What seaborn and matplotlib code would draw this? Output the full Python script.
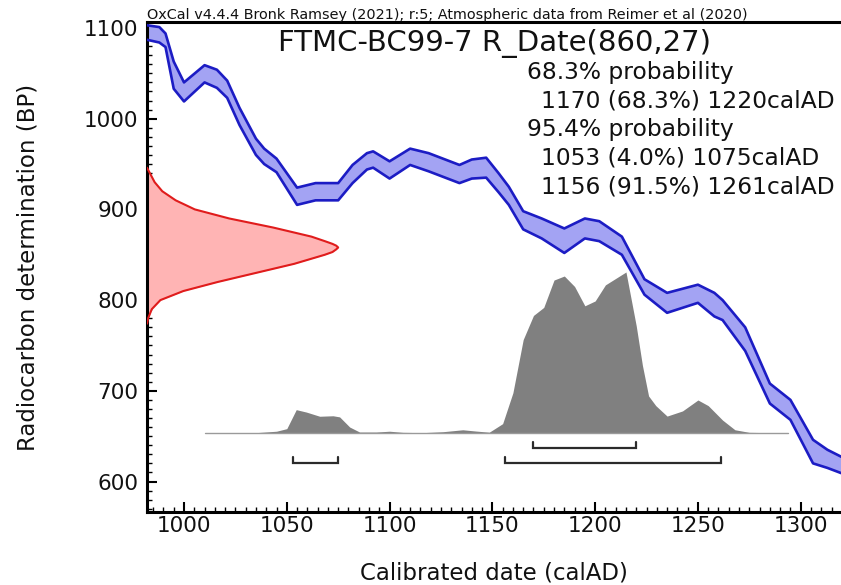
import matplotlib
matplotlib.use("Agg")
import matplotlib.pyplot as plt
from matplotlib.ticker import MultipleLocator
import numpy as np
import seaborn as sns

# Calibration curve band (mean +/- 1 sigma), radiocarbon years BP
curve_year = [982, 988, 991, 995, 1000, 1010, 1016, 1021, 1027, 1035, 1039, 1045,
              1055, 1064, 1075, 1082, 1089, 1092, 1100, 1110, 1119, 1134, 1140,
              1147, 1153, 1158, 1165, 1174, 1185, 1195, 1202, 1213, 1224, 1235,
              1250, 1258, 1262, 1273, 1285, 1295, 1306, 1313, 1320]
curve_upper = [1103, 1101, 1094, 1063, 1040, 1059, 1054, 1042, 1012, 978, 967, 956,
               924, 929, 929, 949, 962, 964, 953, 967, 962, 949, 955,
               957, 940, 925, 898, 890, 879, 890, 887, 870, 823, 808,
               817, 808, 800, 770, 708, 690, 646, 635, 627]
curve_lower = [1087, 1084, 1079, 1033, 1019, 1040, 1034, 1023, 993, 960, 950, 941,
               905, 910, 910, 929, 944, 946, 934, 949, 942, 929, 934,
               935, 919, 905, 878, 868, 852, 868, 865, 850, 806, 786,
               797, 782, 778, 744, 686, 668, 620, 615, 609]

# Radiocarbon measurement likelihood (relative) against BP
date_bp = [946, 940, 930, 920, 910, 900, 890, 880, 870, 865, 862, 860, 858, 856,
           853, 850, 840, 830, 820, 810, 800, 790, 780, 774]
date_prob = [0.0, 0.015, 0.04, 0.08, 0.15, 0.25, 0.43, 0.66, 0.86, 0.93, 0.97, 0.99,
             1.0, 0.99, 0.97, 0.93, 0.77, 0.57, 0.37, 0.19, 0.07, 0.025, 0.006, 0.0]

# Calibrated date probability (relative)
cal_year = [1010, 1035, 1045, 1050, 1054.6, 1059.5, 1066, 1072.5, 1075.7, 1080.6,
            1085.4, 1093.5, 1100, 1106.5, 1116, 1126, 1135.6, 1142, 1148.5, 1155,
            1160, 1165, 1170, 1175, 1180, 1185, 1190, 1195, 1200, 1205, 1210,
            1215, 1220, 1223, 1226, 1229.5, 1235, 1242.5, 1250, 1255, 1262, 1268,
            1275, 1294]
cal_prob = [0.0, 0.002, 0.011, 0.027, 0.145, 0.13, 0.104, 0.107, 0.10, 0.037,
            0.006, 0.006, 0.011, 0.004, 0.002, 0.008, 0.02, 0.012, 0.005, 0.058,
            0.25, 0.58, 0.73, 0.78, 0.95, 0.975, 0.91, 0.79, 0.82, 0.92, 0.96,
            1.0, 0.665, 0.42, 0.23, 0.17, 0.105, 0.137, 0.205, 0.17, 0.08, 0.02,
            0.004, 0.0]

# Highest posterior density ranges (calAD)
hpd68 = [(1170, 1220)]
hpd95 = [(1053, 1075), (1156, 1261)]

header = "OxCal v4.4.4 Bronk Ramsey (2021); r:5; Atmospheric data from Reimer et al (2020)"
title = "FTMC-BC99-7 R_Date(860,27)"
summary = [
    ("68.3% probability", 0),
    ("1170 (68.3%) 1220calAD", 1),
    ("95.4% probability", 0),
    ("1053 (4.0%) 1075calAD", 1),
    ("1156 (91.5%) 1261calAD", 1),
]

# ---- styling ----
sns.set_theme(style="white")
plt.rcParams["font.family"] = ["DejaVu Sans"]

W, H = 841, 585
fig = plt.figure(figsize=(W / 100, H / 100), dpi=100)
ax_left, ax_right, ax_top, ax_bottom = 147, 841, 22, 512
ax = fig.add_axes([ax_left / W, 1 - ax_bottom / H,
                   (ax_right - ax_left) / W, (ax_bottom - ax_top) / H])

XMIN, XMAX = 982, 1319.6
YMIN, YMAX = 566.4, 1106.6
ax.set_xlim(XMIN, XMAX)
ax.set_ylim(YMIN, YMAX)

band_fill = "#a3a3f3"
band_line = "#1c1cc4"
ax.fill_between(curve_year, curve_lower, curve_upper, color=band_fill, lw=0, zorder=2)
for ys in (curve_upper, curve_lower):
    sns.lineplot(x=curve_year, y=ys, ax=ax, color=band_line, lw=1.9,
                 sort=False, estimator=None, zorder=3,
                 solid_joinstyle="round", solid_capstyle="round")

# measurement distribution along the BP axis
red_span = 93.0  # width of the peak in years
red_x = [XMIN + p * red_span for p in date_prob]
ax.fill_betweenx(date_bp, XMIN, red_x, color="#ffb4b4", lw=0, zorder=2)
sns.lineplot(x=red_x, y=date_bp, ax=ax, color="#e01c1c", lw=1.5,
             sort=False, estimator=None, zorder=3, solid_joinstyle="round")

# calibrated distribution
base = 653.5
height = 177.5
cal_top = [base + p * height for p in cal_prob]
ax.fill_between(cal_year, base, cal_top, color="#808080", lw=0, zorder=2)
sns.lineplot(x=[cal_year[0], cal_year[-1]], y=[base, base], ax=ax,
             color="#9a9a9a", lw=1.0, zorder=2)

# range brackets
def bracket(a, b, y, h):
    ax.plot([a, a, b, b], [y + h, y, y, y + h], color="#2b2b2b", lw=1.6,
            solid_joinstyle="miter", zorder=4)

for a, b in hpd68:
    bracket(a, b, 636.6, 7.3)
for a, b in hpd95:
    bracket(a, b, 620.0, 6.8)

# axes, ticks
ax.xaxis.set_major_locator(MultipleLocator(50))
ax.xaxis.set_minor_locator(MultipleLocator(5))
ax.yaxis.set_major_locator(MultipleLocator(100))
ax.yaxis.set_minor_locator(MultipleLocator(10))
ax.tick_params(which="major", direction="in", length=7.5, width=1.5,
               labelsize=15.5, color="black", labelcolor="#111111",
               bottom=True, left=True, top=False, right=False)
ax.tick_params(axis="x", which="major", pad=3)
ax.tick_params(axis="y", which="major", pad=6)
ax.tick_params(which="minor", direction="in", length=3.8, width=1.0,
               color="black", bottom=True, left=True, top=False, right=False)
for side in ("left", "bottom", "top"):
    ax.spines[side].set_visible(True)
    ax.spines[side].set_color("black")
    ax.spines[side].set_linewidth(2.2)
ax.spines["right"].set_visible(False)
ax.set_facecolor("white")

ax.set_xlabel("Calibrated date (calAD)", fontsize=16.5, color="#111111", labelpad=18)
ax.set_ylabel("Radiocarbon determination (BP)", fontsize=16.5, color="#111111",
              labelpad=32)

# annotations
fig.text(ax_left / W, 1 - 15 / H, header, fontsize=10.4, ha="left", va="center",
         color="#111111")
fig.text(495 / W, 1 - 44 / H, title, fontsize=21, ha="center", va="center",
         color="#111111")
y0 = 72
for i, (line, indent) in enumerate(summary):
    fig.text((527 + 14 * indent) / W, 1 - (y0 + 28.7 * i) / H, line, fontsize=16.8,
             ha="left", va="center", color="#111111")

fig.savefig("out.png", dpi=100, facecolor="white")
